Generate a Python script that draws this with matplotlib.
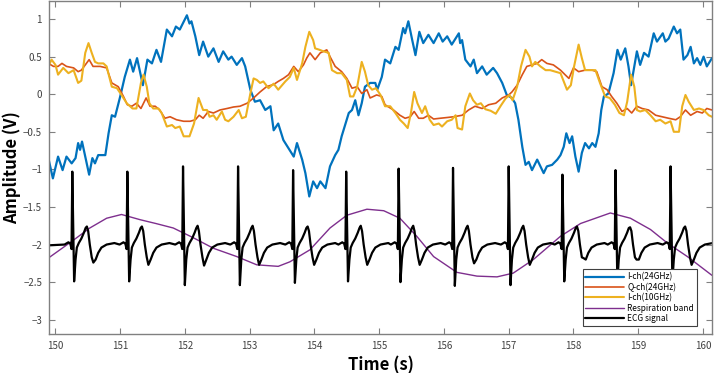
import matplotlib
matplotlib.use("Agg")
import matplotlib.pyplot as plt
import numpy as np

plt.rcParams['font.family'] = ['Noto Sans CJK JP', 'DejaVu Sans']

# ---------------- data ----------------
i24_t = [149.89,149.96,150.04,150.11,150.17,150.25,150.31,150.35,150.38,150.41,150.46,150.52,150.57,150.61,150.66,150.77,
         150.82,150.87,150.92,151.00,151.07,151.15,151.20,151.26,151.35,151.42,151.49,151.56,151.63,151.72,151.80,151.86,
         151.92,152.03,152.07,152.10,152.16,152.22,152.28,152.36,152.44,152.52,152.59,152.67,152.72,152.80,152.88,152.93,
         153.01,153.08,153.16,153.24,153.32,153.37,153.44,153.52,153.60,153.68,153.73,153.81,153.86,153.92,153.98,154.04,
         154.09,154.17,154.24,154.32,154.37,154.42,154.53,154.58,154.63,154.68,154.73,154.78,154.86,154.94,154.97,155.04,
         155.09,155.17,155.25,155.30,155.37,155.40,155.45,155.51,155.56,155.62,155.68,155.76,155.84,155.92,155.98,156.05,
         156.12,156.23,156.25,156.28,156.33,156.41,156.46,156.51,156.59,156.66,156.76,156.82,156.90,156.97,157.05,157.10,
         157.15,157.21,157.26,157.31,157.36,157.44,157.49,157.54,157.59,157.67,157.75,157.80,157.85,157.89,157.94,157.98,
         158.03,158.08,158.13,158.18,158.24,158.29,158.34,158.39,158.43,158.47,158.54,158.62,158.68,158.73,158.80,158.85,
         158.89,158.94,158.98,159.03,159.09,159.16,159.24,159.29,159.38,159.42,159.47,159.55,159.60,159.65,159.70,159.76,
         159.81,159.86,159.91,159.96,160.01,160.06,160.14]
i24_v = [-0.85,-1.12,-0.83,-1.01,-0.83,-0.92,-0.85,-0.65,-0.74,-0.63,-0.83,-1.07,-0.85,-0.92,-0.81,-0.81,
         -0.52,-0.28,-0.30,-0.03,0.23,0.46,0.30,0.48,0.12,0.46,0.41,0.59,0.43,0.86,0.77,0.90,
         0.86,1.05,0.94,0.97,0.77,0.52,0.70,0.50,0.61,0.43,0.57,0.46,0.50,0.39,0.48,0.37,
         0.06,-0.10,-0.08,-0.21,-0.16,-0.48,-0.39,-0.61,-0.72,-0.83,-0.65,-0.87,-1.05,-1.36,-1.16,-1.25,
         -1.16,-1.25,-0.96,-0.81,-0.74,-0.56,-0.25,-0.21,-0.08,-0.28,-0.12,0.10,0.15,0.15,0.06,0.23,
         0.46,0.41,0.63,0.59,0.88,0.81,0.97,0.72,0.52,0.83,0.68,0.79,0.68,0.81,0.70,0.77,
         0.66,0.81,0.68,0.72,0.46,0.37,0.46,0.28,0.37,0.26,0.35,0.28,0.15,-0.01,-0.05,-0.12,
         -0.34,-0.70,-0.94,-0.90,-1.01,-0.87,-0.96,-1.05,-0.96,-0.94,-0.87,-0.81,-0.70,-0.52,-0.65,-0.56,
         -0.83,-1.03,-0.78,-0.65,-0.72,-0.65,-0.70,-0.52,-0.21,-0.03,0.01,0.28,0.59,0.46,0.61,0.37,
         0.12,0.37,0.57,0.39,0.55,0.50,0.81,0.70,0.81,0.70,0.74,0.90,0.81,0.86,0.46,0.52,
         0.63,0.41,0.48,0.39,0.50,0.37,0.48]

q24_t = [149.89,149.97,150.04,150.10,150.17,150.28,150.35,150.40,150.46,150.52,150.58,150.69,150.79,150.87,150.97,151.05,
         151.11,151.18,151.25,151.32,151.40,151.46,151.54,151.61,151.69,151.77,151.87,151.98,152.08,152.16,152.22,152.28,
         152.36,152.44,152.54,152.65,152.75,152.85,152.96,153.06,153.16,153.26,153.37,153.44,153.52,153.60,153.68,153.75,
         153.83,153.88,153.93,154.01,154.09,154.19,154.24,154.32,154.42,154.50,154.58,154.66,154.73,154.81,154.86,154.96,
         155.04,155.09,155.22,155.32,155.40,155.48,155.54,155.61,155.68,155.76,155.84,155.94,156.05,156.15,156.28,156.38,
         156.48,156.59,156.69,156.80,156.90,157.00,157.05,157.13,157.21,157.28,157.36,157.44,157.51,157.59,157.69,157.80,
         157.87,157.93,158.00,158.08,158.18,158.29,158.36,158.44,158.52,158.59,158.67,158.75,158.83,158.90,158.98,159.06,
         159.16,159.27,159.37,159.47,159.58,159.65,159.73,159.81,159.91,159.99,160.06,160.14]
q24_v = [0.41,0.37,0.37,0.41,0.37,0.35,0.30,0.32,0.39,0.46,0.37,0.37,0.35,0.15,0.10,-0.03,
         -0.14,-0.16,-0.12,-0.19,-0.05,-0.16,-0.16,-0.21,-0.32,-0.30,-0.34,-0.36,-0.36,-0.34,-0.28,-0.32,
         -0.23,-0.25,-0.21,-0.19,-0.17,-0.16,-0.12,-0.05,0.03,0.10,0.13,0.17,0.21,0.26,0.37,0.30,
         0.39,0.48,0.55,0.46,0.55,0.59,0.50,0.37,0.30,0.21,0.08,0.10,0.01,0.06,-0.05,-0.01,
         -0.03,-0.14,-0.21,-0.28,-0.32,-0.30,-0.23,-0.32,-0.32,-0.28,-0.33,-0.32,-0.31,-0.30,-0.28,-0.21,
         -0.16,-0.19,-0.14,-0.12,-0.05,-0.01,0.03,0.12,0.26,0.37,0.39,0.41,0.46,0.41,0.39,0.32,
         0.26,0.21,0.35,0.30,0.32,0.32,0.30,0.10,0.06,-0.03,-0.12,-0.23,-0.19,-0.25,-0.16,-0.19,
         -0.21,-0.28,-0.30,-0.32,-0.34,-0.30,-0.21,-0.28,-0.23,-0.25,-0.19,-0.21]

i10_t = [149.89,149.94,150.00,150.04,150.12,150.20,150.28,150.35,150.40,150.46,150.51,150.56,150.61,150.66,150.74,150.79,
         150.87,150.95,151.02,151.10,151.19,151.25,151.32,151.36,151.41,151.45,151.51,151.59,151.64,151.72,151.80,151.85,
         151.92,151.98,152.07,152.14,152.21,152.28,152.34,152.38,152.44,152.49,152.57,152.62,152.67,152.75,152.83,152.88,
         152.94,153.01,153.06,153.11,153.16,153.21,153.29,153.37,153.44,153.55,153.62,153.68,153.73,153.81,153.86,153.92,
         153.98,154.01,154.08,154.14,154.22,154.27,154.35,154.42,154.50,154.55,154.60,154.66,154.73,154.78,154.83,154.89,
         154.95,155.02,155.09,155.17,155.25,155.32,155.38,155.44,155.49,155.54,155.59,155.66,155.71,155.78,155.84,155.92,
         155.97,156.05,156.12,156.18,156.21,156.28,156.33,156.40,156.45,156.51,156.57,156.64,156.72,156.80,156.88,156.95,
         157.01,157.06,157.13,157.19,157.26,157.32,157.36,157.41,157.49,157.57,157.64,157.72,157.80,157.86,157.90,157.96,
         158.01,158.08,158.13,158.18,158.26,158.34,158.41,158.49,158.56,158.64,158.71,158.78,158.83,158.89,158.94,158.98,
         159.03,159.11,159.19,159.27,159.34,159.42,159.50,159.55,159.63,159.68,159.73,159.78,159.86,159.94,160.01,160.09,
         160.14]
i10_v = [0.37,0.46,0.39,0.26,0.35,0.28,0.32,0.15,0.18,0.55,0.68,0.55,0.43,0.41,0.41,0.37,
         0.10,0.08,-0.01,-0.12,-0.19,-0.19,0.15,0.26,0.10,-0.12,-0.19,-0.19,-0.25,-0.43,-0.41,-0.45,
         -0.43,-0.56,-0.56,-0.39,-0.05,-0.21,-0.21,-0.30,-0.28,-0.34,-0.23,-0.34,-0.36,-0.30,-0.21,-0.32,
         -0.30,0.01,0.21,0.19,0.15,0.17,0.08,0.14,0.06,0.17,0.23,0.35,0.19,0.41,0.63,0.83,
         0.72,0.61,0.59,0.57,0.55,0.32,0.28,0.28,0.19,-0.03,-0.03,0.10,0.43,0.30,0.12,0.06,
         0.08,-0.01,-0.16,-0.16,-0.25,-0.34,-0.39,-0.45,-0.25,0.03,-0.12,-0.25,-0.16,-0.34,-0.41,-0.39,
         -0.43,-0.36,-0.34,-0.28,-0.45,-0.47,-0.16,0.01,-0.08,-0.14,-0.12,-0.20,-0.22,-0.26,-0.15,-0.06,
         -0.01,-0.08,0.10,0.37,0.59,0.50,0.37,0.43,0.37,0.32,0.32,0.30,0.28,0.15,0.06,0.12,
         0.37,0.66,0.48,0.32,0.32,0.32,0.15,-0.03,-0.05,-0.14,-0.25,-0.28,-0.10,0.26,0.10,-0.21,
         -0.23,-0.21,-0.28,-0.36,-0.34,-0.39,-0.36,-0.50,-0.50,-0.16,-0.01,-0.10,-0.21,-0.19,-0.21,-0.28,
         -0.30]

resp_t = [149.89,150.28,150.53,150.79,151.02,151.31,151.55,151.82,152.13,152.44,152.80,153.11,153.44,153.62,153.93,154.24,
          154.50,154.81,155.07,155.32,155.58,155.84,156.20,156.51,156.82,157.07,157.38,157.80,158.11,158.57,158.88,159.19,
          159.45,159.76,160.14]
resp_v = [-2.18,-1.94,-1.78,-1.65,-1.60,-1.67,-1.72,-1.78,-1.91,-2.05,-2.16,-2.27,-2.29,-2.23,-2.07,-1.78,
          -1.61,-1.53,-1.55,-1.65,-1.89,-2.16,-2.37,-2.42,-2.43,-2.38,-2.20,-1.89,-1.72,-1.58,-1.65,-1.80,
          -1.98,-2.16,-2.41]

# ECG: per-beat R-peak times and landmark amplitudes
ecg_r_time = [150.26,151.11,151.97,152.82,153.67,154.49,155.30,156.14,157.00,157.83,158.65,159.50]
ecg_r_amp = [-1.03,-1.03,-0.96,-0.96,-1.01,-1.03,-0.99,-0.98,-0.96,-1.07,-1.01,-0.96]
ecg_s_amp = [-2.49,-2.49,-2.54,-2.54,-2.51,-2.49,-2.50,-2.55,-2.54,-2.49,-2.49,-2.49]
ecg_t_peak = [-1.76,-1.76,-1.75,-1.75,-1.76,-1.75,-1.75,-1.75,-1.75,-1.76,-1.77,-1.76]
ecg_t_trough = [-2.24,-2.27,-2.28,-2.27,-2.27,-2.27,-2.27,-2.25,-2.27,-2.18,-2.20,-2.27]
ecg_base = -2.0
# one beat: offset from R (s) and level above baseline,
# or a key into the per-beat landmark arrays
beat_dt = [-0.12, -0.06, -0.03, -0.012, 0.0, 0.028, 0.05, 0.07, 0.10, 0.14, 0.18, 0.205,
           0.225, 0.245, 0.27, 0.30, 0.325, 0.36, 0.40, 0.45, 0.53, 0.65]
beat_lv = [0.0, 0.03, 0.01, -0.06, 'R', 'S', -0.2, -0.04, 0.02, 0.08, 0.16, 0.22,
           'T', 0.18, 0.0, -0.17, 'U', -0.2, -0.11, -0.04, 0.0, 0.02]

ecg_t = [149.9]
ecg_v = [ecg_base - 0.01]
for tr, ra, sa, tp, tt in zip(ecg_r_time, ecg_r_amp, ecg_s_amp, ecg_t_peak, ecg_t_trough):
    marks = {'R': ra, 'S': sa, 'T': tp, 'U': tt}
    for dt, lv in zip(beat_dt, beat_lv):
        ecg_t.append(tr + dt)
        ecg_v.append(marks[lv] if isinstance(lv, str) else ecg_base + lv)
ecg_t.append(160.15)
ecg_v.append(-1.98)

# ---------------- plot ----------------
fig = plt.figure(figsize=(7.14, 3.73), dpi=100)
ax = fig.add_axes([49/714, 39/373, 663/714, 333/373])

kw = dict(solid_joinstyle='round', solid_capstyle='round')
ax.plot(i24_t, i24_v, color='#0072BD', lw=1.6, label='I-ch(24GHz)', **kw)
ax.plot(q24_t, q24_v, color='#D95319', lw=1.2, label='Q-ch(24GHz)', **kw)
ax.plot(i10_t, i10_v, color='#EDB120', lw=1.5, label='I-ch(10GHz)', **kw)
ax.plot(resp_t, resp_v, color='#7E2F8E', lw=1.0, label='Respiration band', **kw)
ax.plot(ecg_t, ecg_v, color='black', lw=1.6, label='ECG signal', **kw)

ax.set_xlim(149.9, 160.14)
ax.set_ylim(-3.19, 1.24)
ax.set_xticks(np.arange(150, 161, 1))
ax.set_yticks(np.arange(-3, 1.01, 0.5))
ax.set_yticklabels(['\u22123', '\u22122.5', '\u22122', '\u22121.5', '\u22121', '\u22120.5', '0', '0.5', '1'])

for s in ax.spines.values():
    s.set_color('#808080')
    s.set_linewidth(1.0)
ax.tick_params(direction='in', length=4, width=0.8, color='#808080',
               labelsize=7, labelcolor='#404040', top=True, right=True, pad=5)

ax.set_xlabel('Time (s)', fontsize=12, fontweight='bold', labelpad=4)
ax.set_ylabel('Amplitude (V)', fontsize=12, fontweight='bold')
ax.yaxis.set_label_coords(-0.042, 0.5)

leg = ax.legend(loc='lower right', bbox_to_anchor=(0.977, 0.025), fontsize=6,
                frameon=True, fancybox=False, edgecolor='#404040', framealpha=1,
                handlelength=4.6, borderpad=0.35, labelspacing=0.15, handletextpad=0.4,
                borderaxespad=0)
leg.get_frame().set_linewidth(0.8)

fig.savefig('out.png', dpi=100)
